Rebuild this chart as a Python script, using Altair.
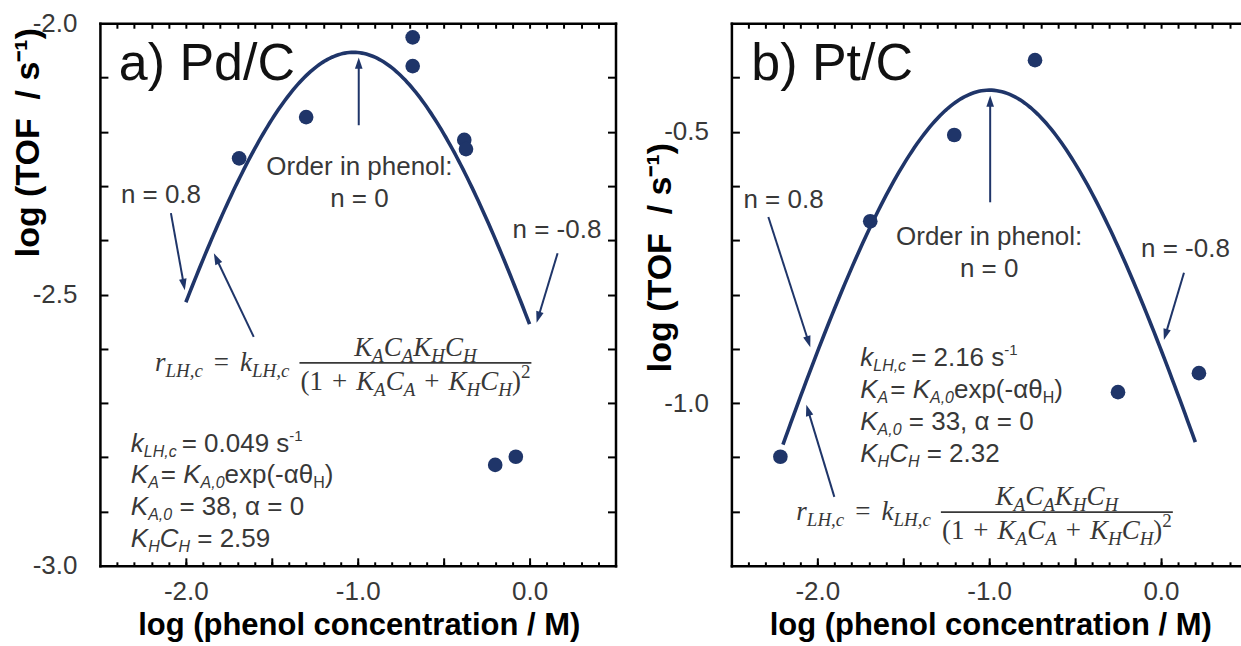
import math

import altair as alt
import numpy as np
import pandas as pd

NAVY = "#1f3569"
INK = "#383838"
SANS = "Liberation Sans"
SERIF = "Liberation Serif"

# ---------------------------------------------------------------------------
# Measured turnover frequencies: log10(TOF / s^-1) against log10(phenol / M)
# ---------------------------------------------------------------------------
pd_logc = [-1.69, -1.30, -0.68, -0.68, -0.38, -0.37, -0.20, -0.08]
pd_logtof = [-2.249, -2.173, -2.026, -2.079, -2.215, -2.232, -2.814, -2.799]

pt_logc = [-2.215, -1.692, -1.203, -0.733, -0.250, 0.221]
pt_logtof = [-1.099, -0.665, -0.506, -0.368, -0.980, -0.945]

# Langmuir-Hinshelwood fits (alpha = 0, so K_A = K_A,0)
pd_fit = {"k": 0.049, "ka0": 38, "alpha": 0, "khch": 2.59, "lo": -2.0, "hi": 0.0}
pt_fit = {"k": 2.16, "ka0": 33, "alpha": 0, "khch": 2.32, "lo": -2.2, "hi": 0.2}

# axis frames and labelled ticks
pd_xdom, pd_ydom = [-2.5, 0.5], [-3.0, -2.0]
pt_xdom, pt_ydom = [-2.5, 0.46], [-1.3, -0.3]
x_labels = [-2.0, -1.0, 0.0]
pd_ylabels = [-3.0, -2.5, -2.0]
pt_ylabels = [-1.0, -0.5]

PANEL_H = 543
PD_W, PT_W = 516, 509

NEG_FMT = "datum.value < 0 ? '-' + format(-datum.value, '.1f') : format(datum.value, '.1f')"
Y_TITLE = "log (TOF\u00a0\u00a0/ s\u207b\u00b9)"
X_TITLE = "log (phenol concentration / M)"


def lh_curve(fit, n=161):
    logc = np.linspace(fit["lo"], fit["hi"], n)
    ka_ca = fit["ka0"] * np.exp(-fit["alpha"]) * 10.0 ** logc
    rate = fit["k"] * ka_ca * fit["khch"] / (1.0 + ka_ca + fit["khch"]) ** 2
    return pd.DataFrame({"logc": logc, "logtof": np.log10(rate)})


def steps(lo, hi, step):
    vals = np.arange(lo, hi + 1e-9, step)
    return [round(float(v), 2) for v in vals]


# ---------------------------------------------------------------------------
# Rich-text helpers (sub/superscripts built from separate text runs)
# ---------------------------------------------------------------------------
SANS_W = {" ": .278, "(": .333, ")": .333, ",": .278, "-": .333, ".": .278,
          "=": .584, "A": .667, "C": .722, "H": .722, "K": .667, "L": .556,
          "c": .5, "e": .556, "k": .5, "p": .556, "s": .5, "x": .5,
          "\u03b1": .58, "\u03b8": .556}
for d in "0123456789":
    SANS_W[d] = .556
SERIF_I_W = {" ": .25, ",": .25, "A": .611, "C": .667, "H": .722, "K": .667,
             "L": .556, "c": .444, "k": .444, "r": .389}
SERIF_W = {" ": .25, "(": .333, ")": .333, "+": .564, "=": .564, "1": .5, "2": .5}

STYLES = {
    "pi": (SANS, "italic", 26, 0, SANS_W),
    "pr": (SANS, "normal", 26, 0, SANS_W),
    "psi": (SANS, "italic", 16, 5, SANS_W),
    "psr": (SANS, "normal", 16, 5, SANS_W),
    "pup": (SANS, "normal", 15, -11, SANS_W),
    "ei": (SERIF, "italic", 27, 0, SERIF_I_W),
    "eu": (SERIF, "normal", 27, 0, SERIF_W),
    "esi": (SERIF, "italic", 19, 6, SERIF_I_W),
    "eup": (SERIF, "normal", 19, -12, SERIF_W),
}


def run(segs, x0=0.0, base=0.0):
    rows, x = [], x0
    for text, sty in segs:
        if sty == "gap":
            x += text
            continue
        font, fstyle, size, shift, table = STYLES[sty]

        def width(s):
            return sum(table.get(ch, 0.55) for ch in s) * size

        core = text.strip(" ")
        lead = text[: len(text) - len(text.lstrip(" "))]
        trail = text[len(text.rstrip(" ")):]
        x += width(lead)
        rows.append({"dx": x, "dy": base + shift, "text": core, "size": size,
                     "font": font, "fstyle": fstyle})
        x += width(core) + width(trail)
    return rows, x


EQ_LEFT = [("r", "ei"), ("LH,c", "esi"), (11, "gap"), ("=", "eu"), (11, "gap"),
           ("k", "ei"), ("LH,c", "esi")]
EQ_NUM = [("K", "ei"), ("A", "esi"), ("C", "ei"), ("A", "esi"),
          ("K", "ei"), ("H", "esi"), ("C", "ei"), ("H", "esi")]
EQ_DEN = [("(", "eu"), ("1", "eu"), (9, "gap"), ("+", "eu"), (9, "gap"),
          ("K", "ei"), ("A", "esi"), ("C", "ei"), ("A", "esi"), (9, "gap"),
          ("+", "eu"), (9, "gap"), ("K", "ei"), ("H", "esi"), ("C", "ei"),
          ("H", "esi"), (")", "eu"), ("2", "eup")]


def equation_runs():
    left, wl = run(EQ_LEFT, 0, 8)
    _, wn = run(EQ_NUM)
    _, wd = run(EQ_DEN)
    bar0 = wl + 10
    bar_len = wd + 2
    num, _ = run(EQ_NUM, bar0 + (bar_len - wn) / 2, -7)
    den, _ = run(EQ_DEN, bar0 + 1, 27)
    return left + num + den, (bar0, bar0 + bar_len)


def param_lines(fit):
    return [
        [("k", "pi"), ("LH,c", "psi"), (5, "gap"), (f"= {fit['k']:g} s", "pr"), ("-1", "pup")],
        [("K", "pi"), ("A", "psi"), (2, "gap"), ("= ", "pr"), ("K", "pi"), ("A,0", "psi"),
         ("exp(-\u03b1\u03b8", "pr"), ("H", "psr"), (")", "pr")],
        [("K", "pi"), ("A,0", "psi"), (f" = {fit['ka0']:g}, \u03b1 = {fit['alpha']:g}", "pr")],
        [("K", "pi"), ("H", "psi"), ("C", "pi"), ("H", "psi"), (f" = {fit['khch']:g}", "pr")],
    ]


# ---------------------------------------------------------------------------
# Annotation placement (data units of each panel)
# ---------------------------------------------------------------------------
pd_notes = {
    "tag": ("a) Pd/C", -2.390, -2.105),
    "order": (-0.99, -2.280, -2.339),
    "n_pos": ("n = 0.8", -2.378, -2.331),
    "n_neg": ("n = -0.8", -0.099, -2.396),
    "params": (-2.320, [-2.790, -2.847, -2.906, -2.965]),
    "eq": (-2.180, -2.626),
    "arrows": [((-0.994, -2.188), (-0.994, -2.063)),
               ((-2.087, -2.350), (-2.006, -2.492)),
               ((0.163, -2.424), (0.041, -2.552)),
               ((-1.605, -2.578), (-1.837, -2.424))],
}
pt_notes = {
    "tag": ("b) Pt/C", -2.384, -0.405),
    "order": (-1.0, -0.709, -0.768),
    "n_pos": ("n = 0.8", -2.430, -0.641),
    "n_neg": ("n = -0.8", -0.116, -0.731),
    "params": (-1.750, [-0.932, -0.991, -1.050, -1.108]),
    "eq": (-2.122, -1.201),
    "arrows": [((-2.285, -0.657), (-2.041, -0.897)),
               ((-0.994, -0.630), (-0.994, -0.433)),
               ((0.134, -0.760), (0.017, -0.884)),
               ((-1.901, -1.173), (-2.064, -1.003))],
}

HEAD = "M0,0 L-0.42,1.25 L0.42,1.25 Z"


# ---------------------------------------------------------------------------
# Axis pieces
# ---------------------------------------------------------------------------
def x_label_axis():
    return alt.Axis(orient="bottom", values=x_labels, labelExpr=NEG_FMT, labelFont=SANS,
                    labelFontSize=26, labelColor=INK, labelPadding=34,
                    labelBaseline="alphabetic", labelFlush=False, labelOverlap=False,
                    ticks=False, tickSize=0, domain=True, domainColor="black",
                    domainWidth=2.5, domainCap="square", grid=False, title=X_TITLE,
                    titleFont=SANS, titleFontSize=31, titleFontWeight="bold",
                    titleColor="black", titleBaseline="alphabetic", titleY=69,
                    titleX=259, titleAlign="center")


def y_label_axis(values, title_y):
    return alt.Axis(orient="left", values=values, labelExpr=NEG_FMT, labelFont=SANS,
                    labelFontSize=26, labelColor=INK, labelPadding=23, labelFlush=False,
                    labelOverlap=False, ticks=False, tickSize=0, domain=True,
                    domainColor="black", domainWidth=2.5, domainCap="square", grid=False,
                    title=Y_TITLE, titleFont=SANS, titleFontSize=34,
                    titleFontWeight="bold", titleColor="black", titleX=-71,
                    titleY=title_y, titleAngle=270, titleAlign="center",
                    titleBaseline="middle")


def tick_axis(orient, values, length):
    return alt.Axis(orient=orient, values=values, ticks=True, tickSize=length,
                    tickWidth=2, tickColor="black", offset=-length, labels=False,
                    domain=False, grid=False, title=None)


def frame_axis(orient):
    return alt.Axis(orient=orient, domain=True, domainColor="black", domainWidth=2.5,
                    domainCap="square", ticks=False, labels=False, grid=False, title=None)


def panel(xd, yd, width, px, py, fit, ylabels, title_y, notes, right_frame):
    xs = alt.Scale(domain=xd, nice=False, zero=False)
    ys = alt.Scale(domain=yd, nice=False, zero=False)
    kx = width / (xd[1] - xd[0])
    ky = PANEL_H / (yd[1] - yd[0])

    mid = pd.DataFrame({"gx": [(xd[0] + xd[1]) / 2], "gy": [(yd[0] + yd[1]) / 2]})

    def carrier(xaxis=None, yaxis=None):
        return alt.Chart(mid).mark_point(opacity=0).encode(
            x=alt.X("gx:Q", scale=xs, axis=xaxis),
            y=alt.Y("gy:Q", scale=ys, axis=yaxis),
        )

    x_minor = [v for v in steps(-2.5, xd[1], 0.1) if xd[0] < v < xd[1]]
    x_major = [v for v in steps(-2.5, xd[1], 0.5) if xd[0] < v < xd[1]]
    y_minor = [v for v in steps(yd[0], yd[1], 0.1) if yd[0] < v < yd[1]]

    layers = [
        carrier(xaxis=x_label_axis()),
        carrier(xaxis=tick_axis("bottom", x_major, 8)),
        carrier(xaxis=tick_axis("bottom", x_minor, 4)),
        carrier(xaxis=frame_axis("top")),
        carrier(xaxis=tick_axis("top", x_minor, 5)),
        carrier(yaxis=y_label_axis(ylabels, title_y)),
        carrier(yaxis=tick_axis("left", y_minor, 8)),
    ]
    if right_frame:
        layers += [carrier(yaxis=frame_axis("right")),
                   carrier(yaxis=tick_axis("right", y_minor, 8))]

    curve = lh_curve(fit)
    layers.append(alt.Chart(curve).mark_line(color=NAVY, strokeWidth=3.6).encode(
        x=alt.X("logc:Q", scale=xs, axis=None), y=alt.Y("logtof:Q", scale=ys, axis=None)))

    pts = pd.DataFrame({"logc": px, "logtof": py})
    layers.append(alt.Chart(pts).mark_circle(size=215, color=NAVY, opacity=1).encode(
        x=alt.X("logc:Q", scale=xs, axis=None), y=alt.Y("logtof:Q", scale=ys, axis=None)))

    # arrows: shaft + rotated head
    shafts, heads = [], []
    for (x1, y1), (x2, y2) in notes["arrows"]:
        sx, sy = (x2 - x1) * kx, -(y2 - y1) * ky
        length = math.hypot(sx, sy)
        ux, uy = sx / length, sy / length
        back = 6.0
        shafts.append({"X": x1, "Y": y1, "X2": x2 - ux * back / kx, "Y2": y2 + uy * back / ky})
        heads.append({"X": x2, "Y": y2, "angle": math.degrees(math.atan2(sx, -sy)) % 360})
    layers.append(alt.Chart(pd.DataFrame(shafts)).mark_rule(color=NAVY, strokeWidth=2).encode(
        x=alt.X("X:Q", scale=xs, axis=None), y=alt.Y("Y:Q", scale=ys, axis=None),
        x2="X2:Q", y2="Y2:Q"))
    layers.append(alt.Chart(pd.DataFrame(heads)).mark_point(
        shape=HEAD, filled=True, color=NAVY, size=330, opacity=1, strokeWidth=0).encode(
        x=alt.X("X:Q", scale=xs, axis=None), y=alt.Y("Y:Q", scale=ys, axis=None),
        angle=alt.Angle("angle:Q", scale=None)))

    # text runs
    rows = []

    def place(run_rows, ax, ay, align="left", color=INK):
        for r in run_rows:
            rows.append({"X": ax + r["dx"] / kx, "Y": ay - r["dy"] / ky, "text": r["text"],
                         "size": r["size"], "font": r["font"], "fstyle": r["fstyle"],
                         "align": align, "color": color})

    tag, tx, ty = notes["tag"]
    rows.append({"X": tx, "Y": ty, "text": tag, "size": 52, "font": SANS, "fstyle": "normal",
                 "align": "left", "color": "#111111"})
    ox, oy1, oy2 = notes["order"]
    for txt, yy in (("Order in phenol:", oy1), ("n = 0", oy2)):
        rows.append({"X": ox, "Y": yy, "text": txt, "size": 26, "font": SANS,
                     "fstyle": "normal", "align": "center", "color": INK})
    for key in ("n_pos", "n_neg"):
        txt, nx, ny = notes[key]
        rows.append({"X": nx, "Y": ny, "text": txt, "size": 26, "font": SANS,
                     "fstyle": "normal", "align": "left", "color": INK})

    px0, bases = notes["params"]
    for segs, base in zip(param_lines(fit), bases):
        run_rows, _ = run(segs)
        place(run_rows, px0, base)

    ex, ey = notes["eq"]
    eq_rows, (b0, b1) = equation_runs()
    place(eq_rows, ex, ey)
    bar = pd.DataFrame({"X": [ex + b0 / kx], "X2": [ex + b1 / kx], "Y": [ey]})
    layers.append(alt.Chart(bar).mark_rule(color=INK, strokeWidth=1.6).encode(
        x=alt.X("X:Q", scale=xs, axis=None), x2="X2:Q",
        y=alt.Y("Y:Q", scale=ys, axis=None)))

    tdf = pd.DataFrame(rows)
    for (font, fstyle, align, color), g in tdf.groupby(["font", "fstyle", "align", "color"]):
        layers.append(alt.Chart(g).mark_text(
            font=font, fontStyle=fstyle, align=align, baseline="alphabetic", color=color).encode(
            x=alt.X("X:Q", scale=xs, axis=None), y=alt.Y("Y:Q", scale=ys, axis=None),
            text="text:N", size=alt.Size("size:Q", scale=None)))

    return alt.layer(*layers).properties(width=width, height=PANEL_H).resolve_axis(
        x="independent", y="independent")


left = panel(pd_xdom, pd_ydom, PD_W, pd_logc, pd_logtof, pd_fit, pd_ylabels, 119,
             pd_notes, True)
right = panel(pt_xdom, pt_ydom, PT_W, pt_logc, pt_logtof, pt_fit, pt_ylabels, 234,
              pt_notes, False)

chart = alt.hconcat(left, right, spacing=116, bounds="flush").properties(
    padding={"left": 11, "top": 10, "right": 1, "bottom": 3},
    background="white",
).configure_view(stroke=None)

chart.save("out.html", embed_options={"renderer": "svg", "actions": False})
